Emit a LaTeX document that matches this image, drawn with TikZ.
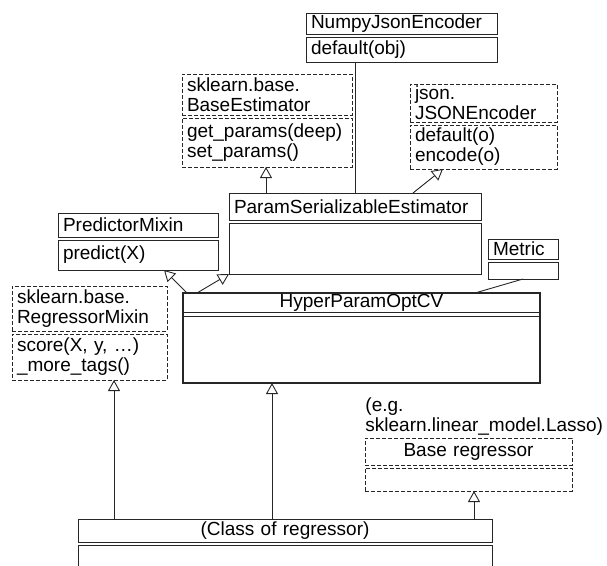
\documentclass[tikz,border=0pt]{standalone}
\usepackage{fontspec}
\setmainfont{Liberation Sans}
\usetikzlibrary{positioning,arrows.meta}

\begin{document}
\begin{tikzpicture}[x=1pt,y=-1pt,
  font=\fontsize{19}{20}\selectfont,
  line width=0.9pt, draw=black!85,
  node distance=3pt,
  cls/.style={draw, rectangle, inner xsep=5pt, inner ysep=0pt,
              outer sep=0pt, align=left},
  head/.style={cls, anchor=north west},
  ops/.style={cls, anchor=north},
  iface/.style={dash pattern=on 4pt off 2pt},
  gen/.style={-{Triangle[open,length=11pt,width=12pt]}}]
\useasboundingbox (0,0) rectangle (607,565);
\clip (0,0) rectangle (607,565);
% class boxes: name part, then operations part
\node[head, text width=181pt, minimum height=21pt] (numpy) at (306,13) {NumpyJsonEncoder};
\node[ops, text width=181pt, minimum height=25pt, below=of numpy] (numpy-ops) {default(obj)};
\node[head, iface, text width=160pt, minimum height=41pt] (base) at (182,74) {sklearn.base.\\BaseEstimator};
\node[ops, iface, text width=160pt, minimum height=49pt, below=of base] (base-ops) {get\_params(deep)\\set\_params()};
\node[head, iface, text width=137pt, minimum height=38pt] (json) at (410,84) {json.\\JSONEncoder};
\node[ops, iface, text width=137pt, minimum height=44pt, below=of json] (json-ops) {default(o)\\encode(o)};
\node[head, text width=242pt, minimum height=27pt] (param) at (229,193) {ParamSerializableEstimator};
\node[ops, text width=242pt, minimum height=51pt, below=of param] (param-ops) {};
\node[head, text width=150pt, minimum height=24pt] (pred) at (58,213) {PredictorMixin};
\node[ops, text width=150pt, minimum height=30pt, below=of pred] (pred-ops) {predict(X)};
\node[head, text width=60pt, minimum height=20pt] (metric) at (488,239) {Metric};
\node[ops, text width=60pt, minimum height=17pt, below=of metric] (metric-ops) {};
\node[head, align=center, text width=347pt, minimum height=19pt] (hyper) at (183,293) {HyperParamOptCV};
\node[ops, text width=347pt, minimum height=67pt, below=4pt of hyper] (hyper-ops) {};
\draw[line width=2.6pt] (hyper.north west) rectangle (hyper-ops.south east);
\node[head, iface, text width=145pt, minimum height=45pt] (rmix) at (12,286) {sklearn.base.\\RegressorMixin};
\node[ops, iface, text width=145pt, minimum height=46pt, below=of rmix] (rmix-ops) {score(X, y, …)\\\_more\_tags()};
\node[anchor=north west, inner sep=0pt, align=left] (eg) at (365,397) {(e.g.\\sklearn.linear\_model.Lasso)};
\node[head, iface, align=center, text width=197pt, minimum height=27pt] (breg) at (365,438) {Base regressor};
\node[ops, iface, text width=197pt, minimum height=23pt, below=of breg] (breg-ops) {};
\node[head, align=center, text width=404pt, minimum height=23pt] (creg) at (78,519) {(Class of regressor)};
\node[ops, text width=404pt, minimum height=60pt, below=of creg] (creg-ops) {};
% connectors
\draw (param.north -| 355,0) -- (numpy-ops.south -| 355,0);
\draw[gen] (param.north -| 266,0) -- (base-ops.south -| 266,0);
\draw[gen] (param.north -| 413,0) -- (json-ops.south -| 443,0);
\draw[gen] (hyper.north -| 187,0) -- (pred-ops.south -| 164,0);
\draw[gen] (hyper.north -| 197,0) -- (param-ops.south west);
\draw (hyper.north -| 475,0) -- (metric-ops.south -| 523,0);
\draw[gen] (creg.north -| 114,0) -- (rmix-ops.south -| 114,0);
\draw[gen] (creg.north -| 272,0) -- (hyper-ops.south -| 272,0);
\draw[gen] (creg.north -| 474,0) -- (breg-ops.south -| 474,0);
\end{tikzpicture}
\end{document}
